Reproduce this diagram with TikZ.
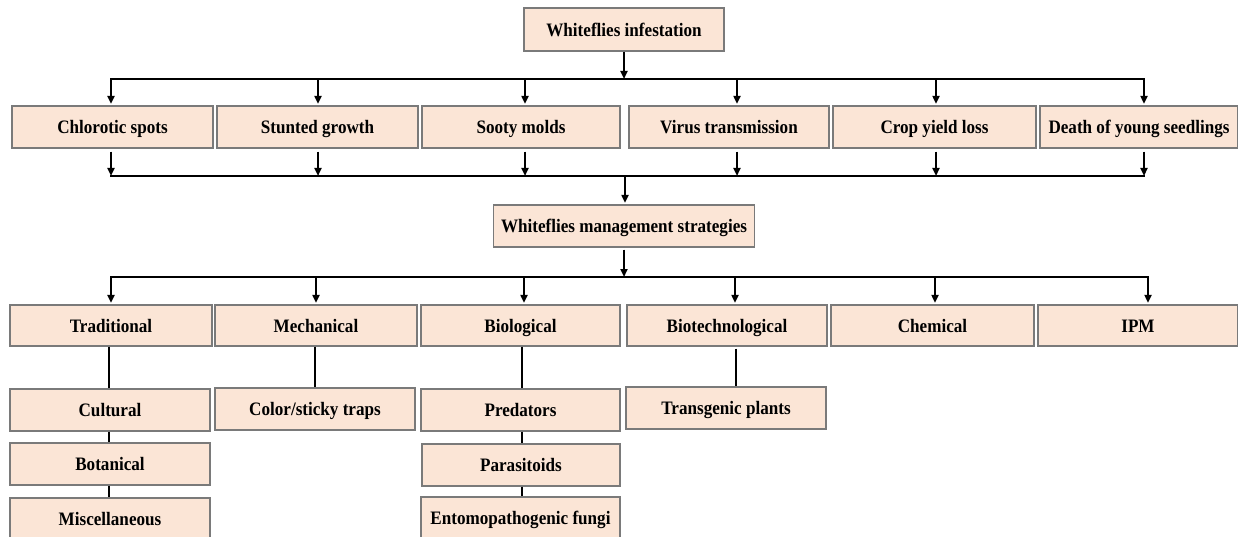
\documentclass[tikz,border=0pt]{standalone}
\usepackage{fontspec}
\setmainfont{Liberation Serif}[FakeStretch=0.9]
\usetikzlibrary{arrows.meta,calc}
\definecolor{boxfill}{HTML}{FBE5D6}
\definecolor{boxline}{HTML}{7A7A7A}
\begin{document}
\begin{tikzpicture}[x=1pt,y=-1pt,
  box/.style={draw=boxline,fill=boxfill,line width=1.3pt,minimum height=42pt,inner sep=0pt,
    text height=17.6pt,text depth=4pt,
    font=\fontsize{19}{22}\selectfont\bfseries},
  conn/.style={line width=2pt,black,line cap=rect},
  arr/.style={line width=2pt,black,-{Triangle[length=8pt,width=7pt]}}]
\useasboundingbox (0,0) rectangle (1238,537);

% nodes
\node[box,minimum width=200pt,minimum height=43pt] (top) at (624,29.5) {Whiteflies infestation};

\node[box,minimum width=201pt] (chl) at (112.5,127) {Chlorotic spots};
\node[box,minimum width=201pt] (stu) at (317.5,127) {Stunted growth};
\node[box,minimum width=198pt] (soo) at (521,127) {Sooty molds};
\node[box,minimum width=200pt] (vir) at (729,127) {Virus transmission};
\node[box,minimum width=203pt] (cro) at (934.5,127) {Crop yield loss};
\node[box,minimum width=198pt] (dea) at (1139,127) {Death of young seedlings};

\node[box,minimum width=261pt] (mgt) at (624,226) {Whiteflies management strategies};

\node[box,minimum width=202pt,minimum height=41pt] (tra) at (111,325.5) {Traditional};
\node[box,minimum width=202pt,minimum height=41pt] (mec) at (316,325.5) {Mechanical};
\node[box,minimum width=199pt,minimum height=41pt] (bio) at (520.5,325.5) {Biological};
\node[box,minimum width=200pt,minimum height=41pt] (btc) at (727,325.5) {Biotechnological};
\node[box,minimum width=203pt,minimum height=41pt] (che) at (932.5,325.5) {Chemical};
\node[box,minimum width=200pt,minimum height=41pt] (ipm) at (1138,325.5) {IPM};

\node[box,minimum width=200pt] (cul) at (110,410) {Cultural};
\node[box,minimum width=200pt] (col) at (315,409) {Color/sticky traps};
\node[box,minimum width=199pt] (pre) at (520.5,410) {Predators};
\node[box,minimum width=200pt] (tgp) at (726,408) {Transgenic plants};

\node[box,minimum width=200pt] (bot) at (110,464) {Botanical};
\node[box,minimum width=198pt] (par) at (521,465) {Parasitoids};

\node[box,minimum width=200pt] (mis) at (110,519) {Miscellaneous};
\node[box,minimum width=199pt] (ent) at (520.5,518) {Entomopathogenic fungi};

% bus 1
\coordinate (a1) at (111,79);
\coordinate (a2) at (318,79);
\coordinate (a3) at (525,79);
\coordinate (a4) at (737,79);
\coordinate (a5) at (936,79);
\coordinate (a6) at (1144,79);
\draw[arr] (top.south) -- (top.south |- a1);
\draw[conn] (a1) -- (a6);
\draw[arr] (a1) -- ([yshift=1.5pt]a1 |- chl.north);
\draw[arr] (a2) -- ([yshift=1.5pt]a2 |- stu.north);
\draw[arr] (a3) -- ([yshift=1.5pt]a3 |- soo.north);
\draw[arr] (a4) -- ([yshift=1.5pt]a4 |- vir.north);
\draw[arr] (a5) -- ([yshift=1.5pt]a5 |- cro.north);
\draw[arr] (a6) -- ([yshift=1.5pt]a6 |- dea.north);

% bus 2
\coordinate (c1) at (111,176);
\coordinate (c2) at (318,176);
\coordinate (c3) at (525,176);
\coordinate (c4) at (737,176);
\coordinate (c5) at (936,176);
\coordinate (c6) at (1144,176);
\coordinate (cm) at (625,176);
\draw[conn] (c1) -- (c6);
\draw[arr] ([yshift=-3pt]c1 |- chl.south) -- (c1);
\draw[arr] ([yshift=-3pt]c2 |- stu.south) -- (c2);
\draw[arr] ([yshift=-3pt]c3 |- soo.south) -- (c3);
\draw[arr] ([yshift=-3pt]c4 |- vir.south) -- (c4);
\draw[arr] ([yshift=-3pt]c5 |- cro.south) -- (c5);
\draw[arr] ([yshift=-3pt]c6 |- dea.south) -- (c6);
\draw[arr] (cm) -- ([yshift=1.5pt]cm |- mgt.north);

% bus 3
\coordinate (e1) at (111,277);
\coordinate (e2) at (316,277);
\coordinate (e3) at (524,277);
\coordinate (e4) at (735,277);
\coordinate (e5) at (935,277);
\coordinate (e6) at (1148,277);
\draw[arr] ([yshift=-2pt]mgt.south) -- (mgt.south |- e1);
\draw[conn] (e1) -- (e6);
\draw[arr] (e1) -- ([yshift=1.5pt]e1 |- tra.north);
\draw[arr] (e2) -- ([yshift=1.5pt]e2 |- mec.north);
\draw[arr] (e3) -- ([yshift=1.5pt]e3 |- bio.north);
\draw[arr] (e4) -- ([yshift=1.5pt]e4 |- btc.north);
\draw[arr] (e5) -- ([yshift=1.5pt]e5 |- che.north);
\draw[arr] (e6) -- ([yshift=1.5pt]e6 |- ipm.north);

% tree lines
\draw[conn,line cap=butt] ([xshift=-2pt]tra.south) -- ([xshift=-2pt]tra.south |- cul.north);
\draw[conn,line cap=butt] ([xshift=-1pt]cul.south) -- ([xshift=-1pt]cul.south |- bot.north);
\draw[conn,line cap=butt] ([xshift=-1pt]bot.south) -- ([xshift=-1pt]bot.south |- mis.north);
\draw[conn,line cap=butt] ([xshift=-1pt]mec.south) -- ([xshift=-1pt]mec.south |- col.north);
\draw[conn,line cap=butt] ([xshift=1.5pt]bio.south) -- ([xshift=1.5pt]bio.south |- pre.north);
\draw[conn,line cap=butt] ([xshift=1.5pt]pre.south) -- ([xshift=1.5pt]pre.south |- par.north);
\draw[conn,line cap=butt] ([xshift=1pt]par.south) -- ([xshift=1pt]par.south |- ent.north);
\draw[conn,line cap=butt] ([xshift=9pt,yshift=-2pt]btc.south) -- ([xshift=9pt]btc.south |- tgp.north);
\end{tikzpicture}
\end{document}
